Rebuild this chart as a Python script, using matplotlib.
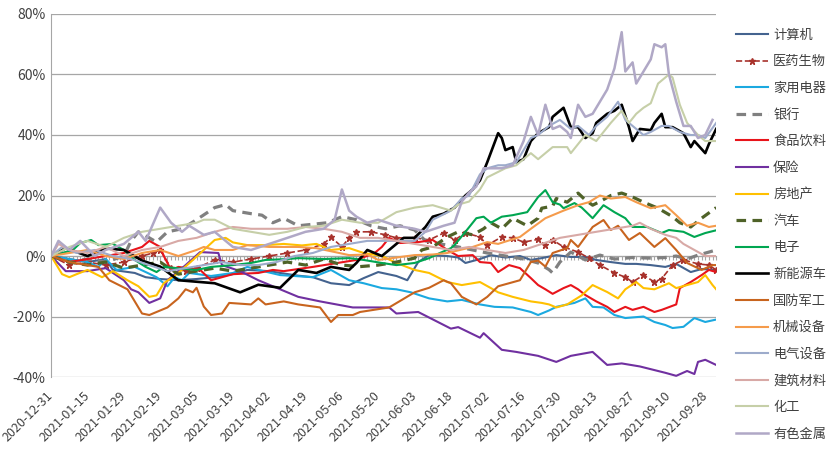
import matplotlib
matplotlib.use('Agg')
import matplotlib.pyplot as plt
from matplotlib.ticker import FuncFormatter

plt.rcParams['font.family'] = ['Noto Sans CJK SC', 'DejaVu Sans']

# x = trading-day index from 2020-12-31, tick label every 10 trading days
n_days = 184
date_labels = ['2020-12-31', '2021-01-15', '2021-01-29', '2021-02-19', '2021-03-05',
               '2021-03-19', '2021-04-02', '2021-04-19', '2021-05-06', '2021-05-20',
               '2021-06-03', '2021-06-18', '2021-07-02', '2021-07-16', '2021-07-30',
               '2021-08-13', '2021-08-27', '2021-09-10', '2021-09-28']

# cumulative return (%) as (day index, value)
computer = [(0, 0), (5, -1), (10, -2), (15, -1), (17, -4.6), (23, -5.6), (26, -7), (30, -7.6), (35, -8),
            (40, -7.6), (45, -7), (50, -6), (54, -4.6), (60, -5), (63, -5.6), (68, -6.5), (72, -7), (77, -9),
            (82, -9.6), (86, -7.3), (90, -5.3), (95, -6.6), (98, -8), (101, -2), (104, 0.3), (109, 0),
            (112, -0.5), (114, -2.3), (118, -1), (121, 0.3), (125, -0.5), (129, 0), (132, -1.3), (135, -0.7),
            (139, 0.3), (143, -0.3), (147, -0.3), (150, -1.3), (154, -2), (158, -2.6), (161, -2.6), (165, -3),
            (169, -3.6), (172, -2.6), (176, -5.3), (179, -4.3), (183, -4.6)]
pharma = [(0, 0), (5, -3), (10, -2), (15, -3), (20, -2), (25, 0), (28, 1), (30, 2), (33, -4), (37, -5),
          (40, -4), (45, -1.3), (50, -2), (55, -1), (60, 0), (65, 1), (70, 2), (75, 4), (77, 6.3), (80, 3),
          (82, 6), (84, 8), (88, 8), (92, 7), (95, 6), (100, 6), (104, 5.3), (108, 7.6), (111, 5.3),
          (114, 7.6), (118, 6.3), (120, 3.6), (124, 6.3), (127, 6), (130, 4.6), (134, 5.5), (136, 3.6),
          (138, 5.3), (141, 3), (145, 1.3), (148, -0.7), (151, -3), (155, -5.6), (158, -7), (160, -8.6),
          (163, -6.3), (166, -8.6), (168, -7.5), (171, -3), (174, -1.3), (178, -2.6), (181, -3), (183, -4.6)]
appliance = [(0, 0), (5, -1), (10, -2), (13, -3.6), (15, -1), (18, -4.6), (23, -3.6), (29, -7), (32, -10),
             (34, -7), (36, -8), (38, -5.6), (44, -6.6), (50, -5.6), (54, -3.6), (57, -4.6), (63, -6.3),
             (72, -7), (77, -4.6), (82, -8), (86, -9), (91, -10.6), (95, -11), (99, -12), (104, -14),
             (109, -15), (113, -14.5), (118, -16), (122, -16.8), (127, -17), (132, -18.5), (134, -19.5),
             (137, -18), (139, -16.8), (144, -15.5), (147, -14), (149, -16.8), (152, -17), (155, -19.5),
             (158, -20.5), (163, -20), (166, -21.8), (169, -22.8), (171, -23.8), (174, -23.4), (177, -20.5),
             (180, -21.8), (183, -21)]
bank = [(0, 0), (5, -2), (10, -1), (15, -2), (20, 0), (22, 5), (24, 8), (27, 6), (29, 4.6), (32, 8), (36, 9),
        (40, 12), (45, 16), (48, 17), (50, 15), (55, 14), (58, 13.5), (61, 11), (64, 12.5), (68, 10),
        (72, 10.5), (76, 11), (80, 13), (84, 12), (88, 10), (92, 9), (96, 10), (100, 8.6), (103, 5),
        (107, 4), (112, 3), (116, 2), (120, 1), (125, 0), (130, -1), (134, -2.3), (137, -4.5), (138, -5.6),
        (140, -2), (143, 1.3), (147, -1.3), (151, 0.3), (155, -1), (160, -0.5), (165, -0.7), (169, -0.5),
        (172, 0), (175, -1), (178, 0.3), (181, 1.3), (183, 2)]
food = [(0, 0), (5, -2), (10, -1), (15, 0), (20, 1), (25, 3), (27, 5), (30, 3), (31, 0), (33, -4.6),
        (35, -3.6), (41, -4.6), (44, -8), (50, -6), (57, -5.6), (61, -4.6), (64, -5), (72, -3.6), (84, -1.3),
        (89, 1), (91, 3), (93, 6), (96, 4.3), (101, 4.6), (105, 5.3), (109, 2), (112, 0), (116, 0.3),
        (118, -2), (121, -2.3), (123, -5.3), (126, -3), (129, -4), (132, -7.3), (134, -9.6), (136, -11),
        (138, -12.5), (141, -10.6), (143, -9.6), (145, -11), (147, -12.9), (150, -15), (153, -16.8),
        (155, -18.5), (158, -16.8), (160, -17.8), (163, -16.8), (166, -18.5), (168, -17.8), (172, -16),
        (173, -10.6), (176, -8.6), (179, -6.3), (181, -4.6), (183, -5.3)]
insurance = [(0, 0), (4, -5), (10, -5), (15, -4), (20, -8), (22, -11), (24, -12), (27, -15.5), (30, -14),
             (32, -8), (37, -3), (41, 1.3), (46, 1), (47, -3), (52, -5), (57, -8), (68, -13.5), (74, -15),
             (83, -17), (93, -17), (95, -19), (101, -18.5), (110, -24), (112, -23.5), (118, -27), (119, -25.5),
             (124, -31), (128, -31.7), (134, -33), (139, -35), (143, -33), (149, -31.7), (153, -36),
             (157, -35.5), (162, -36.5), (169, -38.6), (172, -39.6), (175, -38), (177, -39), (178, -35),
             (180, -34.3), (183, -36)]
realestate = [(0, 0), (3, -6), (5, -7), (7, -6), (10, -4.6), (14, -7), (17, -5), (21, -8), (24, -10),
              (27, -13.5), (29, -13), (31, -9), (35, -5.6), (39, -1.3), (42, 2), (45, 5.3), (48, 6), (50, 4.5),
              (54, 3.6), (59, 3.6), (64, 4), (69, 3.5), (73, 4), (77, 2), (82, 2.6), (86, 1), (91, 0),
              (95, -2.3), (100, -4.6), (104, -5.6), (109, -8.6), (113, -9.6), (118, -8.6), (121, -10.6),
              (123, -12), (127, -13.5), (132, -15), (135, -15.5), (137, -16), (139, -17), (142, -16), (146, -13),
              (149, -9.6), (153, -11.9), (156, -14), (158, -11), (161, -8.6), (163, -10.6), (166, -11), (170, -9),
              (172, -10.6), (175, -9.6), (178, -8.6), (180, -6.3), (182, -9.6), (183, -11)]
auto = [(0, 0), (5, -2), (10, -3), (15, -2), (20, -4), (25, -3), (30, -2), (35, -6), (40, -5), (45, -4),
        (50, -5), (55, -4), (60, -3), (65, -2), (70, -3), (75, -1), (80, -3), (85, -3.5), (90, -3), (95, -2),
        (100, -0.7), (102, 2), (105, 3), (109, 6.3), (112, 8), (116, 7), (119, 9), (121, 11), (124, 9),
        (127, 12.5), (131, 10), (134, 12.5), (135, 15.8), (138, 16.5), (139, 19), (142, 17.8), (145, 20.8),
        (147, 18.5), (149, 16.8), (151, 18), (154, 20), (157, 20.8), (160, 19.5), (163, 17.8), (167, 15.8),
        (171, 13), (173, 11), (176, 9.6), (179, 12.5), (183, 16)]
electronics = [(0, 0), (3, 1), (6, 2), (8, 4.3), (11, 5.3), (13, 3.6), (17, 4), (20, 2), (23, -1.3), (26, -3.6),
               (29, -5.3), (31, -3.6), (37, -4.3), (40, -4.6), (44, -3.6), (50, -3), (55, -2.3), (59, -1.3),
               (65, -1), (68, -0.7), (75, -1), (82, -0.7), (86, -1.3), (91, -2.3), (95, -3), (100, -2.3),
               (104, -0.7), (107, 1), (110, 2.6), (111, 3.6), (114, 8), (117, 12.5), (119, 13), (121, 11),
               (124, 13), (127, 13.5), (131, 14.5), (134, 19.5), (136, 21.8), (138, 17.8), (140, 17),
               (141, 15.8), (144, 17.5), (146, 16), (149, 12.5), (152, 16.8), (155, 14.5), (158, 12.5),
               (160, 9.6), (164, 9.6), (168, 7.6), (170, 8.6), (174, 8), (177, 6.3), (180, 7.6), (183, 8.5)]
nev = [(0, 0), (4, 2.6), (10, 0), (15, 2.5), (20, 2), (25, -1.5), (30, -3.5), (35, -8), (40, -8.5), (45, -9),
       (52, -12), (57, -9.5), (63, -10.5), (68, -4.6), (73, -5.6), (77, -3.6), (82, -4.6), (84, -2.3), (87, 2),
       (91, 0), (95, 4), (97, 6), (100, 6), (103, 9.6), (105, 13), (108, 14), (111, 16), (114, 20), (116, 22),
       (118, 25), (120, 31), (123, 40.6), (124, 39), (125, 35), (127, 36), (128, 31), (130, 32), (132, 38),
       (134, 40.6), (137, 42.6), (138, 46), (141, 49), (143, 42.6), (145, 42.6), (147, 39), (149, 40.6),
       (150, 44), (153, 47), (155, 48), (157, 50), (159, 42.6), (160, 38), (162, 42), (165, 41.6), (166, 44),
       (168, 47), (169, 42.6), (171, 42.6), (174, 40.6), (176, 36), (177, 38), (180, 34), (181, 37), (183, 42)]
defense = [(0, 0), (5, -2), (10, -3), (13, -3.6), (16, -8), (21, -11), (25, -19), (27, -19.5), (29, -18.5),
           (32, -17), (35, -14), (37, -11), (39, -12), (40, -10.5), (42, -16.7), (44, -19.5), (47, -19),
           (49, -15.5), (55, -16), (57, -14), (59, -16), (64, -15), (68, -16), (74, -17), (77, -21.8),
           (79, -19.5), (83, -19.5), (85, -18.5), (93, -17), (100, -12), (104, -10.5), (108, -8), (110, -9),
           (113, -13.5), (117, -16), (120, -13.5), (123, -10), (129, -8), (132, -2), (134, -1.5), (136, -3.5),
           (138, 1), (142, 2.6), (143, 5.3), (145, 3), (149, 9.6), (152, 11.9), (154, 8.6), (156, 10),
           (159, 5.3), (162, 7.6), (166, 3), (169, 5.9), (172, 2), (175, -2.3), (179, -4.6), (182, -3), (183, -3)]
machinery = [(0, 0), (5, 1), (10, 2), (15, 0), (20, -1), (25, 1), (30, 2), (35, 0), (40, 2), (42, 3), (45, 2),
             (50, 2), (54, 3.6), (60, 3), (68, 3), (73, 2.6), (82, 0.3), (87, 0.5), (90, -1.3), (95, -0.5),
             (100, 0.3), (105, 0.5), (109, 1), (116, 3), (120, 4.6), (123, 4), (129, 6.3), (132, 9),
             (136, 12.5), (138, 13.5), (141, 15), (145, 16.8), (148, 17.8), (151, 20), (154, 19), (158, 19.5),
             (161, 17.8), (165, 15.8), (169, 16.8), (172, 13.5), (175, 10), (178, 11), (181, 9.6), (183, 10)]
electrical = [(0, 0), (3, 3), (7, 1), (12, 2), (17, 0), (22, -1), (27, -3), (32, -5), (37, -4), (42, -3),
              (47, -2), (52, -3), (57, -3), (62, -2), (67, 0), (72, 1), (77, 3), (82, 4), (87, 5), (91, 5),
              (95, 5), (100, 5), (103, 8), (105, 12), (110, 15), (113, 19), (115, 20), (118, 27), (120, 29),
              (123, 30), (125, 30), (128, 31), (130, 35), (132, 39), (134, 40), (137, 43), (140, 45), (143, 42),
              (145, 43), (148, 40), (150, 43), (153, 46), (156, 51), (158, 45), (160, 43), (163, 40), (165, 41),
              (168, 43), (170, 43), (173, 41), (176, 40), (178, 40), (180, 39), (183, 44)]
building = [(0, 0), (2, 4), (5, 2), (10, 1), (15, 3), (20, 0), (25, 2), (30, 3), (35, 5), (40, 6), (45, 8),
            (50, 9.6), (55, 9), (60, 9), (65, 9), (70, 9.6), (75, 9), (80, 8), (85, 6), (90, 6), (95, 5),
            (100, 4), (105, 3), (110, 2), (115, 3), (120, 2), (125, 1), (130, 2), (135, 4), (140, 6), (145, 7),
            (150, 8), (155, 9), (160, 10), (162, 11), (165, 9), (169, 7), (172, 6), (174, 4), (177, 2),
            (180, 0), (183, 0)]
chemical = [(0, 0), (5, 3), (10, 5), (15, 3), (20, 6), (25, 8), (30, 9), (35, 10), (40, 11), (42, 12),
            (45, 12), (50, 9), (55, 8), (60, 7), (65, 8), (70, 9.6), (75, 10), (80, 12), (85, 11), (90, 11),
            (95, 14.5), (100, 16), (105, 16.8), (110, 15), (112, 17), (115, 18), (118, 22), (120, 26),
            (125, 29), (128, 30), (132, 34), (134, 32), (138, 36), (142, 36), (143, 34), (147, 40), (150, 38),
            (154, 44), (157, 48), (159, 44), (161, 47), (163, 49), (165, 50.5), (167, 57), (170, 60),
            (171, 59), (173, 50), (175, 44), (178, 40), (180, 38), (183, 38)]
metals = [(0, 0), (2, 5), (5, 2), (8, 5), (12, 0), (15, 2), (20, 4), (24, 8), (26, 5), (30, 16), (33, 11),
          (36, 8), (38, 10), (42, 7), (45, 8), (50, 3), (55, 2), (60, 4), (65, 6), (70, 8), (75, 9), (78, 12),
          (80, 22), (82, 15), (84, 13), (87, 11), (90, 12), (95, 10), (100, 9), (103, 8), (108, 10), (111, 11),
          (113, 18), (115, 21), (117, 23), (119, 29), (121, 29), (124, 29), (127, 30), (130, 38), (132, 46),
          (134, 40), (136, 50), (138, 42), (140, 43), (142, 41), (143, 39), (145, 50), (147, 46), (149, 47),
          (153, 55), (155, 62), (157, 74), (158, 61), (160, 64), (161, 57), (165, 65), (166, 70), (168, 69),
          (169, 70), (170, 60), (172, 51), (174, 43), (176, 43), (178, 39), (180, 40), (182, 45)]


def main():
    fig = plt.figure(figsize=(8.39, 4.51), dpi=100)
    ax = fig.add_axes([0.061, 0.164, 0.7926, 0.805])

    # name, data, color, linestyle, linewidth
    series = [
        ('计算机', computer, '#44638F', '-', 1.5),
        ('医药生物', pharma, '#A8322C', '--', 1.2),
        ('家用电器', appliance, '#1BA9E0', '-', 1.5),
        ('银行', bank, '#808080', '--', 2.3),
        ('食品饮料', food, '#E8141B', '-', 1.5),
        ('保险', insurance, '#7030A0', '-', 1.5),
        ('房地产', realestate, '#FFC000', '-', 1.5),
        ('汽车', auto, '#4F6228', '--', 2.3),
        ('电子', electronics, '#00A651', '-', 1.5),
        ('新能源车', nev, '#000000', '-', 1.9),
        ('国防军工', defense, '#C8641E', '-', 1.5),
        ('机械设备', machinery, '#F59B4B', '-', 1.5),
        ('电气设备', electrical, '#9DABCB', '-', 1.5),
        ('建筑材料', building, '#D8A9A6', '-', 1.5),
        ('化工', chemical, '#C6CFA8', '-', 1.5),
        ('有色金属', metals, '#B0A8C6', '-', 1.8),
    ]
    for name, data, color, ls, lw in series:
        xs = [p[0] for p in data]
        ys = [p[1] for p in data]
        if name == '医药生物':
            ax.plot(xs, ys, color=color, ls=ls, lw=lw, marker='*', ms=5, label=name)
        elif ls == '--':
            ax.plot(xs, ys, color=color, lw=lw, dashes=(3, 2), label=name)
        else:
            ax.plot(xs, ys, color=color, ls=ls, lw=lw, label=name)

    ax.set_xlim(0, n_days - 1)
    ax.set_ylim(-40, 80)
    ax.set_yticks(range(-40, 81, 20))
    ax.yaxis.set_major_formatter(FuncFormatter(lambda v, p: f'{v:.0f}%'))
    ax.yaxis.grid(True, color='#A6A6A6', lw=0.9)
    ax.set_axisbelow(True)
    for s in ['top', 'right', 'bottom']:
        ax.spines[s].set_visible(False)
    ax.spines['left'].set_color('#A6A6A6')
    ax.tick_params(axis='y', length=0, labelsize=10, labelcolor='#404040', pad=4)

    ax.set_xticks(range(0, 181, 10))
    ax.set_xticklabels(date_labels, rotation=45, ha='right', va='center', rotation_mode='anchor',
                       fontsize=9, color='#404040')
    ax.tick_params(axis='x', length=0, pad=12)

    # category axis line crossing at 0% with a tick for each day
    sec = ax.secondary_xaxis(1 / 3)
    sec.set_xticks(list(range(n_days)))
    sec.tick_params(length=3, color='#A6A6A6', labelbottom=False, labeltop=False)
    for s in sec.spines.values():
        s.set_color('#A6A6A6')

    fig.legend(loc='upper left', bbox_to_anchor=(0.868, 0.954), frameon=False, fontsize=9.5,
               handlelength=2.4, handletextpad=0.4, labelspacing=1.03, labelcolor='#404040',
               borderaxespad=0.2)

    fig.savefig('out.png', dpi=100)


if __name__ == '__main__':
    main()
